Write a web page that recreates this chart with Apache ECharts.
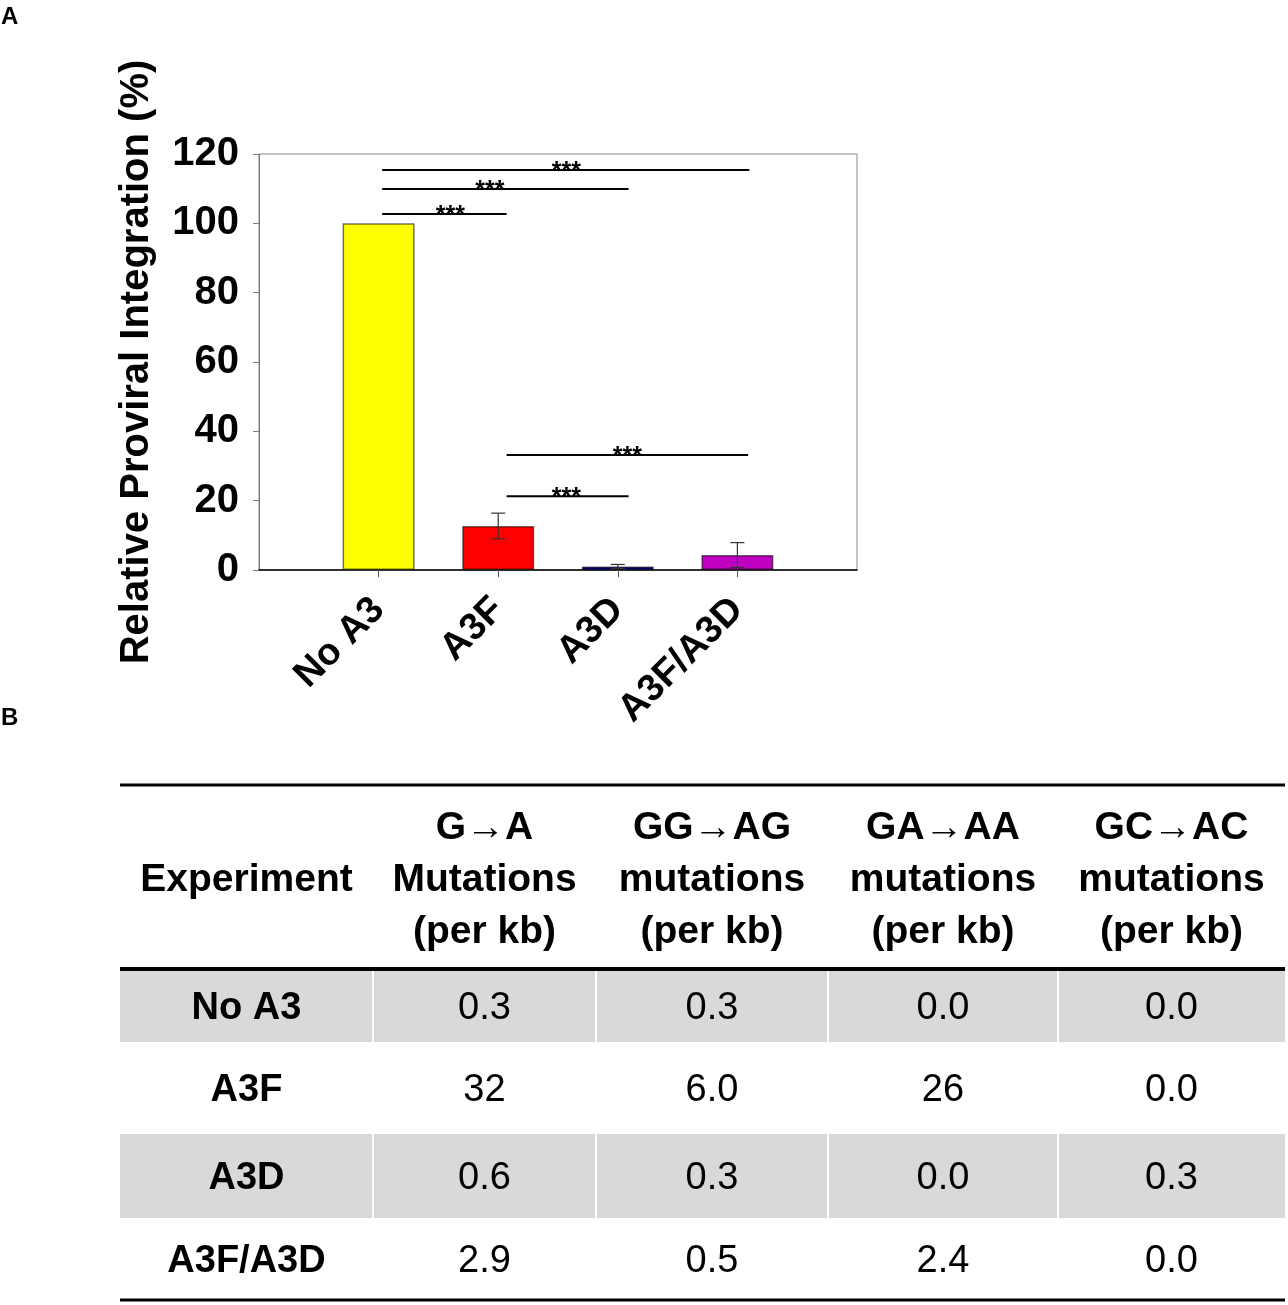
<!DOCTYPE html>
<html>
<head>
<meta charset="utf-8">
<script src="https://cdn.jsdelivr.net/npm/echarts@6/dist/echarts.min.js"></script>
<style>
html, body {margin: 0; padding: 0; background: #fff;}
#main {width: 1288px; height: 1305px;}
</style>
</head>
<body>
<div id="main"></div>
<script>
// ---- panel A data ----
var groups = ['No A3', 'A3F', 'A3D', 'A3F/A3D'];
var integration = [100, 12.7, 1.0, 4.3];
var integrationErr = [0, 3.7, 0.6, 3.6];
var barColors = ['#ffff00', '#ff0000', '#000099', '#c000c0'];
// significance brackets (group position units, y in %)
var sigFrom = [1.03, 1.03, 1.03, 2.07, 2.07];
var sigTo = [4.1, 3.09, 2.07, 4.09, 3.09];
var sigY = [115.4, 109.9, 102.7, 33.2, 21.3];
var sigStarX = [2.57, 1.93, 1.6, 3.08, 2.57];
var sigText = ['***', '***', '***', '***', '***'];

// ---- panel B data ----
var tableHeader = ['Experiment', 'G\u2192A\nMutations\n(per kb)', 'GG\u2192AG\nmutations\n(per kb)',
    'GA\u2192AA\nmutations\n(per kb)', 'GC\u2192AC\nmutations\n(per kb)'];
var experiments = ['No A3', 'A3F', 'A3D', 'A3F/A3D'];
var gToA = ['0.3', '32', '0.6', '2.9'];
var ggToAg = ['0.3', '6.0', '0.3', '0.5'];
var gaToAa = ['0.0', '26', '0.0', '2.4'];
var gcToAc = ['0.0', '0.0', '0.3', '0.0'];

// table layout (not data)
var colW = [253, 223, 232, 230, 227];
var rowH = [184, 73, 92, 84, 82];

var FONT = '"Liberation Sans", Arial, sans-serif';

var myChart = echarts.init(document.getElementById('main'));

// build table cells
var tableCols = [experiments, gToA, ggToAg, gaToAa, gcToAc];
var cellData = [];
var cellText = [];
var y0 = 0;
for (var r = 0; r < rowH.length; r++) {
    var x0 = 0;
    for (var c = 0; c < colW.length; c++) {
        cellData.push([x0, y0, x0 + colW[c], y0 + rowH[r], c, r]);
        cellText.push(r === 0 ? tableHeader[c] : tableCols[c][r - 1]);
        x0 += colW[c];
    }
    y0 += rowH[r];
}
var tableW = colW.reduce(function (a, b) { return a + b; }, 0);
var tableH = y0;
var rules = [[0, 3], [rowH[0], 4], [tableH, 3]];

function renderError(params, api) {
    var lo = api.coord([api.value(0), api.value(1)]);
    var hi = api.coord([api.value(0), api.value(2)]);
    var cap = 7;
    var st = {stroke: '#333', lineWidth: 1.2};
    return {
        type: 'group',
        children: [
            {type: 'line', shape: {x1: lo[0], y1: lo[1], x2: hi[0], y2: hi[1]}, style: st},
            {type: 'line', shape: {x1: lo[0] - cap, y1: lo[1], x2: lo[0] + cap, y2: lo[1]}, style: st},
            {type: 'line', shape: {x1: hi[0] - cap, y1: hi[1], x2: hi[0] + cap, y2: hi[1]}, style: st}
        ]
    };
}

function renderSig(params, api) {
    var a = api.coord([api.value(0), api.value(2)]);
    var b = api.coord([api.value(1), api.value(2)]);
    var s = api.coord([api.value(3), api.value(2)]);
    return {
        type: 'group',
        children: [
            {type: 'line', shape: {x1: a[0], y1: a[1], x2: b[0], y2: b[1]}, style: {stroke: '#000', lineWidth: 2}},
            {type: 'text', x: s[0], y: s[1] + 2, style: {
                text: sigText[params.dataIndex], align: 'center', verticalAlign: 'middle',
                fontSize: 25, fontWeight: 'bold', fontFamily: FONT, fill: '#000'}}
        ]
    };
}

function renderCell(params, api) {
    var p0 = api.coord([api.value(0), api.value(1)]);
    var p1 = api.coord([api.value(2), api.value(3)]);
    var c = api.value(4), r = api.value(5);
    var children = [];
    if (r === 1 || r === 3) {
        var l = c > 0 ? 1 : 0, rr = c < colW.length - 1 ? 1 : 0;
        children.push({type: 'rect', shape: {x: p0[0] + l, y: p0[1], width: p1[0] - p0[0] - l - rr, height: p1[1] - p0[1]},
            style: {fill: '#d9d9d9'}});
    }
    var bold = (r === 0 || c === 0);
    children.push({type: 'text', x: (p0[0] + p1[0]) / 2, y: (p0[1] + p1[1]) / 2 + 3, style: {
        text: cellText[params.dataIndex], align: 'center', verticalAlign: 'middle',
        fontSize: r === 0 ? 39 : 38, fontWeight: bold ? 'bold' : 'normal', fontFamily: FONT,
        lineHeight: 52, fill: '#000'}});
    return {type: 'group', children: children};
}

function renderRule(params, api) {
    var a = api.coord([0, api.value(0)]);
    var b = api.coord([tableW, api.value(0)]);
    var t = api.value(1);
    return {type: 'rect', shape: {x: a[0], y: a[1] - t / 2, width: b[0] - a[0], height: t}, style: {fill: '#000'}};
}

option = {
    backgroundColor: '#fff',
    animation: false,
    graphic: [
        {type: 'text', left: 1, top: 5, style: {text: 'A', fontSize: 24, fontWeight: 'bold', fontFamily: FONT, fill: '#000'}},
        {type: 'text', left: 1, top: 706, style: {text: 'B', fontSize: 24, fontWeight: 'bold', fontFamily: FONT, fill: '#000'}}
    ],
    grid: [
        {left: 259, top: 154, width: 598, height: 416, show: true, borderColor: '#888', borderWidth: 1},
        {left: 120, top: 785, width: 1165, height: 515}
    ],
    xAxis: [
        {
            type: 'category',
            gridIndex: 0,
            data: [''].concat(groups, ['']),
            boundaryGap: false,
            axisLine: {lineStyle: {color: '#000', width: 1.5}},
            axisTick: {
                length: 7,
                lineStyle: {color: '#555'},
                interval: function (i) { return i > 0 && i <= groups.length; }
            },
            axisLabel: {
                interval: 0,
                rotate: 45,
                margin: 34,
                color: '#000',
                fontSize: 38,
                fontWeight: 'bold',
                fontFamily: FONT
            },
            splitLine: {show: false}
        },
        {type: 'value', gridIndex: 0, min: 0, max: groups.length + 1, show: false},
        {type: 'value', gridIndex: 1, min: 0, max: tableW, show: false}
    ],
    yAxis: [
        {
            type: 'value',
            gridIndex: 0,
            min: 0,
            max: 120,
            interval: 20,
            name: 'Relative Proviral Integration (%)',
            nameLocation: 'middle',
            nameGap: 102,
            nameTextStyle: {fontSize: 40, fontWeight: 'bold', color: '#000', fontFamily: FONT},
            axisLine: {show: true, lineStyle: {color: '#777', width: 1}},
            axisTick: {show: true, length: 6, lineStyle: {color: '#777'}},
            axisLabel: {color: '#000', fontSize: 40, fontWeight: 'bold', fontFamily: FONT, margin: 20},
            splitLine: {show: false}
        },
        {type: 'value', gridIndex: 1, min: 0, max: tableH, inverse: true, show: false}
    ],
    series: [
        {
            type: 'bar',
            xAxisIndex: 0,
            yAxisIndex: 0,
            barWidth: 72,
            data: ['-'].concat(integration.map(function (v, i) {
                return {value: v, itemStyle: {color: barColors[i]}};
            }), ['-']),
            itemStyle: {borderColor: 'rgba(0,0,0,0.55)', borderWidth: 1.5}
        },
        {
            type: 'custom',
            xAxisIndex: 1,
            yAxisIndex: 0,
            renderItem: renderError,
            data: integration.map(function (v, i) {
                return [i + 1, v - integrationErr[i], v + integrationErr[i]];
            }).filter(function (d, i) { return integrationErr[i] > 0; }),
            z: 3
        },
        {
            type: 'custom',
            xAxisIndex: 1,
            yAxisIndex: 0,
            renderItem: renderSig,
            data: sigFrom.map(function (f, i) { return [f, sigTo[i], sigY[i], sigStarX[i]]; }),
            z: 4
        },
        {
            type: 'custom',
            xAxisIndex: 2,
            yAxisIndex: 1,
            renderItem: renderCell,
            data: cellData,
            z: 2
        },
        {
            type: 'custom',
            xAxisIndex: 2,
            yAxisIndex: 1,
            renderItem: renderRule,
            data: rules,
            z: 5
        }
    ]
};
myChart.setOption(option);
</script>
</body>
</html>
